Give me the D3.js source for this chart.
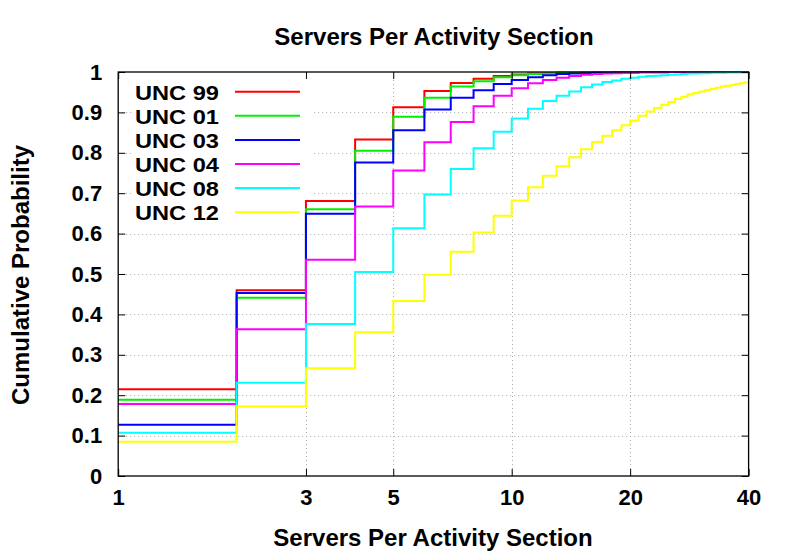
<!DOCTYPE html>
<html><head><meta charset="utf-8">
<script src="https://cdn.jsdelivr.net/npm/d3@7"></script>
<style>
body{margin:0;background:#fff}
text{font-family:"Liberation Sans",Arial,Helvetica,sans-serif;font-weight:bold;fill:#000}
</style></head>
<body><svg id="chart" width="792" height="554"></svg>
<script>
// ---- data ----
const servers = [1,2,3,4,5,6,7,8,9,10,11,12,13,14,15,16,17,18,19,20,21,22,23,24,25,26,27,28,29,30,31,32,33,34,35,36,37,38,39,40];
const seriesNames = ["UNC 99","UNC 01","UNC 03","UNC 04","UNC 08","UNC 12"];
const seriesColors = ["#ff0000","#00f000","#0000ff","#ff00ff","#00ffff","#ffff00"];
const unc99 = [0.215,0.460,0.681,0.833,0.913,0.953,0.973,0.983,0.990,0.994,0.996,0.997,0.998,0.998,0.999,0.999,0.999,1,1,1,1,1,1,1,1,1,1,1,1,1,1,1,1,1,1,1,1,1,1,1];
const unc01 = [0.189,0.441,0.660,0.805,0.889,0.936,0.964,0.977,0.987,0.992,0.995,0.997,0.998,0.998,0.999,0.999,0.999,1,1,1,1,1,1,1,1,1,1,1,1,1,1,1,1,1,1,1,1,1,1,1];
const unc03 = [0.127,0.453,0.649,0.776,0.856,0.907,0.936,0.955,0.970,0.980,0.987,0.992,0.995,0.996,0.997,0.998,0.998,0.999,0.999,0.999,1,1,1,1,1,1,1,1,1,1,1,1,1,1,1,1,1,1,1,1];
const unc04 = [0.178,0.363,0.535,0.667,0.756,0.826,0.876,0.915,0.941,0.960,0.972,0.980,0.986,0.990,0.993,0.995,0.996,0.997,0.998,0.998,0.999,0.999,0.999,0.999,1,1,1,1,1,1,1,1,1,1,1,1,1,1,1,1];
const unc08 = [0.107,0.231,0.376,0.505,0.613,0.697,0.760,0.811,0.852,0.885,0.909,0.928,0.941,0.952,0.962,0.969,0.975,0.979,0.983,0.986,0.988,0.990,0.991,0.992,0.993,0.994,0.995,0.996,0.996,0.997,0.997,0.998,0.998,0.998,0.999,0.999,0.999,0.999,0.999,1];
const unc12 = [0.085,0.172,0.267,0.356,0.433,0.498,0.555,0.603,0.644,0.682,0.715,0.743,0.767,0.789,0.809,0.827,0.842,0.856,0.868,0.880,0.892,0.902,0.911,0.919,0.926,0.933,0.939,0.944,0.948,0.952,0.955,0.958,0.961,0.964,0.966,0.968,0.970,0.972,0.974,0.975];
const seriesValues = [unc99,unc01,unc03,unc04,unc08,unc12];
const xTickValues = [1,3,5,10,20,40];
const yTickValues = [0,0.1,0.2,0.3,0.4,0.5,0.6,0.7,0.8,0.9,1];
const titleText = "Servers Per Activity Section";
const xLabelText = "Servers Per Activity Section";
const yLabelText = "Cumulative Probability";

// ---- layout ----
const L = 118.2, R = 748.6, T = 72, B = 476;
const svg = d3.select("#chart");
const x = d3.scaleLog().domain([1,40]).range([L,R]);
const y = d3.scaleLinear().domain([0,1]).range([B,T]);

// grid
const grid = svg.append("g").attr("stroke","#aaaaaa").attr("stroke-width",1).attr("stroke-dasharray","1,3");
grid.selectAll("line.h").data(yTickValues.filter(d=>d>0&&d<1)).join("line")
  .attr("x1",L).attr("x2",R).attr("y1",d=>Math.round(y(d))+0.5).attr("y2",d=>Math.round(y(d))+0.5);
grid.selectAll("line.v").data(xTickValues.filter(d=>d>1&&d<40)).join("line")
  .attr("y1",T).attr("y2",B).attr("x1",d=>Math.round(x(d))+0.5).attr("x2",d=>Math.round(x(d))+0.5);

// key background (opaque)
svg.append("rect").attr("x",133).attr("y",74).attr("width",180).attr("height",151).attr("fill","#fff");

// lines
const line = d3.line().x((d,i)=>x(servers[i])).y(d=>y(d)).curve(d3.curveStepAfter);
svg.append("g").selectAll("path").data(seriesValues).join("path")
  .attr("d",d=>line(d)).attr("fill","none")
  .attr("stroke",(d,i)=>seriesColors[i]).attr("stroke-width",2);

// axes
const fmtY = d => d===0?"0":(d===1?"1":d.toFixed(1));
const gx = svg.append("g").attr("transform",`translate(0,${B})`)
  .call(d3.axisBottom(x).tickValues(xTickValues).tickFormat(d3.format("d")).tickSize(-7).tickPadding(13));
const gxt = svg.append("g").attr("transform",`translate(0,${T})`)
  .call(d3.axisTop(x).tickValues(xTickValues).tickFormat("").tickSize(-7));
const gy = svg.append("g").attr("transform",`translate(${L},0)`)
  .call(d3.axisLeft(y).tickValues(yTickValues).tickFormat(fmtY).tickSize(-7).tickPadding(16));
const gyr = svg.append("g").attr("transform",`translate(${R},0)`)
  .call(d3.axisRight(y).tickValues(yTickValues).tickFormat("").tickSize(-7));
[gx,gxt,gy,gyr].forEach(g=>{
  g.select(".domain").remove();
  g.selectAll(".tick line").attr("stroke","#000").attr("stroke-width",1);
  g.selectAll(".tick text").style("font-size","22px").style("font-family",'"Liberation Sans",Arial,sans-serif').style("font-weight","bold").attr("fill","#000");
});
// frame
svg.append("rect").attr("x",L).attr("y",T).attr("width",R-L).attr("height",B-T)
  .attr("fill","none").attr("stroke","#000").attr("stroke-width",1.3);

// legend
const key = svg.append("g");
seriesNames.forEach((n,i)=>{
  const cy = 91.7 + i*24.1;
  key.append("text").attr("x",135).attr("y",cy+8).attr("textLength",84).attr("lengthAdjust","spacingAndGlyphs")
    .style("font-size","21px").text(n);
  key.append("line").attr("x1",235).attr("x2",300).attr("y1",cy).attr("y2",cy)
    .attr("stroke",seriesColors[i]).attr("stroke-width",2);
});

// titles
svg.append("text").attr("x",434).attr("y",45).attr("text-anchor","middle").style("font-size","24px").text(titleText);
svg.append("text").attr("x",433).attr("y",546).attr("text-anchor","middle").style("font-size","24px").text(xLabelText);
svg.append("text").attr("transform","translate(29,275) rotate(-90)").attr("text-anchor","middle").style("font-size","24px").text(yLabelText);
</script></body></html>
